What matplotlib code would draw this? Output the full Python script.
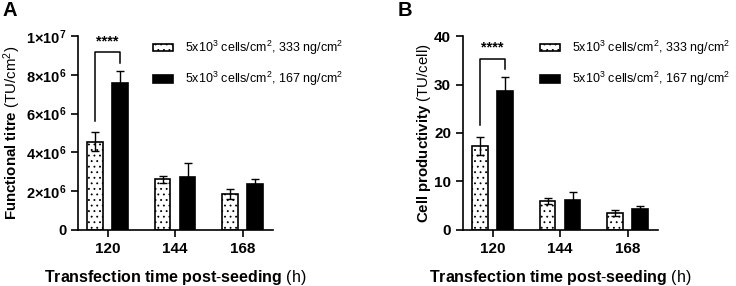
import numpy as np
import matplotlib
matplotlib.use("Agg")
import matplotlib.pyplot as plt

plt.rcParams["font.family"] = ["Liberation Sans", "DejaVu Sans"]
plt.rcParams["mathtext.fontset"] = "custom"
plt.rcParams["mathtext.rm"] = "Liberation Sans"
plt.rcParams["mathtext.it"] = "Liberation Sans:italic"
plt.rcParams["mathtext.bf"] = "Liberation Sans:bold"
plt.rcParams["hatch.linewidth"] = 0.6

# data
times = ["120", "144", "168"]
series_labels = ["5x10$^3$ cells/cm$^2$, 333 ng/cm$^2$",
                 "5x10$^3$ cells/cm$^2$, 167 ng/cm$^2$"]

titre_333 = [4.55e6, 2.61e6, 1.86e6]
titre_333_err = [0.48e6, 0.19e6, 0.26e6]
titre_167 = [7.56e6, 2.72e6, 2.39e6]
titre_167_err = [0.65e6, 0.72e6, 0.24e6]

prod_333 = [17.3, 5.9, 3.5]
prod_333_err = [1.9, 0.6, 0.55]
prod_167 = [28.7, 6.2, 4.4]
prod_167_err = [2.8, 1.7, 0.56]

titre_ticks = [0, 2e6, 4e6, 6e6, 8e6, 1e7]
titre_ticklabels = ["0", "2×10^6", "4×10^6", "6×10^6", "8×10^6", "1×10^7"]
prod_ticks = [0, 10, 20, 30, 40]


def draw_panel(ax, v1, e1, v2, e2, ymax, ylabel, ylab_x, letter, letter_x, leg_x):
    x = np.arange(len(times))
    w = 0.23
    off = 0.185
    ax.bar(x - off, v1, w, color="white", edgecolor="black", linewidth=1.2,
           hatch="...", label=series_labels[0], zorder=2)
    ax.bar(x + off, v2, w, color="black", edgecolor="black", linewidth=1.2,
           label=series_labels[1], zorder=2)
    ax.errorbar(x - off, v1, yerr=e1, fmt="none", ecolor="black", elinewidth=1,
                capsize=3.2, capthick=1, zorder=3)
    ax.errorbar(x + off, v2, yerr=e2, fmt="none", ecolor="black", elinewidth=1,
                capsize=3.2, capthick=1, zorder=3)

    # significance bracket for 120 h
    lb = v1[0] + e1[0] + 0.06 * ymax
    rb = v2[0] + e2[0] + 0.04 * ymax
    top = max(lb, rb) + 0.055 * ymax
    ax.plot([x[0] - off, x[0] - off, x[0] + off, x[0] + off], [lb, top, top, rb],
            color="black", lw=1.1, clip_on=False)
    ax.text(x[0], top + 0.02 * ymax, "****", ha="center", va="bottom",
            fontsize=10.5, fontweight="bold")

    ax.set_xlim(-0.44, 2.45)
    ax.set_ylim(0, ymax)
    ax.set_xticks(x)
    ax.set_xticklabels(times, fontweight="bold", fontsize=11)
    ax.spines["top"].set_visible(False)
    ax.spines["right"].set_visible(False)
    for s in ["left", "bottom"]:
        ax.spines[s].set_linewidth(1.2)
    ax.tick_params(axis="both", width=1.2, length=5, labelsize=11)
    ax.set_xlabel(r"$\mathbf{Transfection\ time\ post\text{-}seeding}$ (h)",
                  fontsize=11.5, labelpad=9)
    ax.set_ylabel(ylabel, fontsize=10.8)
    ax.yaxis.set_label_coords(ylab_x, 0.5)
    ax.legend(loc="upper left", bbox_to_anchor=(leg_x, 0.985), frameon=False,
              fontsize=9, handlelength=1.6, handleheight=0.55,
              labelspacing=1.05, handletextpad=0.95, borderaxespad=0,
              borderpad=0)
    ax.text(letter_x, 1.13, letter, transform=ax.transAxes, fontsize=14.5,
            fontweight="bold", ha="center", va="center")


fig = plt.figure(figsize=(7.36, 2.86), dpi=100)
axA = fig.add_axes([0.106, 0.196, 0.265, 0.678])
axB = fig.add_axes([0.629, 0.196, 0.265, 0.678])

draw_panel(axA, titre_333, titre_333_err, titre_167, titre_167_err, 1e7,
           r"$\mathbf{Functional\ titre}$ (TU/cm$^2$)", -0.28, "A", -0.35, 0.385)
axA.set_yticks(titre_ticks)
axA.set_yticklabels([r"$\mathbf{" + t + "}$" if t != "0" else t
                     for t in titre_ticklabels])
axA.tick_params(axis="y", labelsize=10.5)

draw_panel(axB, prod_333, prod_333_err, prod_167, prod_167_err, 40,
           r"$\mathbf{Cell\ productivity}$ (TU/cell)", -0.155, "B", -0.30, 0.395)
axB.set_yticks(prod_ticks)

for ax in (axA, axB):
    for lab in ax.get_yticklabels() + ax.get_xticklabels():
        lab.set_fontweight("bold")

fig.savefig("out.png", dpi=100)
